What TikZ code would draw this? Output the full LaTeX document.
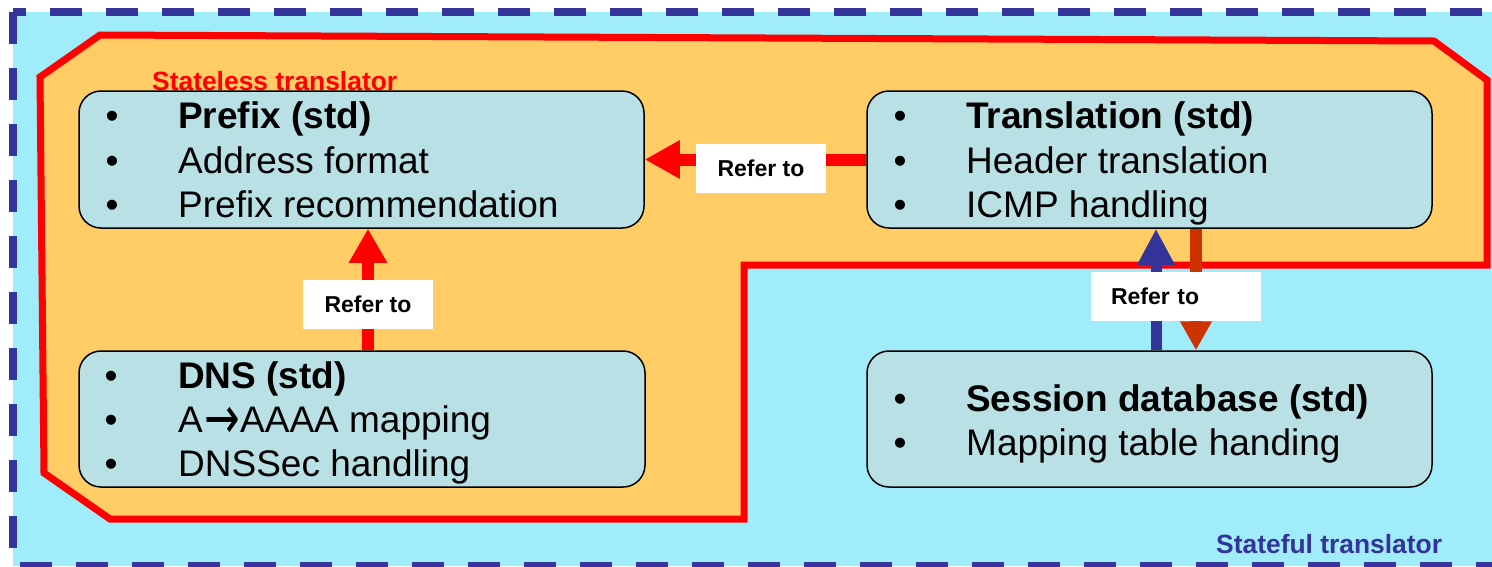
\documentclass[tikz,border=0pt]{standalone}
\usepackage{fontspec}
\setmainfont{Liberation Sans}
\newfontfamily\arrowfont{DejaVu Sans}
\usetikzlibrary{arrows.meta}
\definecolor{bgblue}{RGB}{160,236,251}
\definecolor{dashblue}{RGB}{51,51,153}
\definecolor{stlorange}{RGB}{255,204,102}
\definecolor{boxfill}{RGB}{185,224,228}
\definecolor{arrowred}{RGB}{204,51,0}
\newcommand{\bigarrowglyph}{\makebox[37.3pt][r]{\raisebox{2.75pt}{$\vcenter{\hbox{\arrowfont\scalebox{1.15}[1.6]{→}}}$}}}
\tikzset{
  infobox/.style={draw=black, line width=1.5pt, fill=boxfill, rounded corners=22pt, inner sep=0pt},
  bul/.style={anchor=base, inner sep=0pt, font=\fontsize{37}{44}\selectfont},
  itm/.style={anchor=base west, inner sep=0pt, font=\fontsize{37}{44}\selectfont},
  itmb/.style={anchor=base west, inner sep=0pt, font=\bfseries\fontsize{37}{44}\selectfont},
  refbox/.style={fill=white, inner sep=0pt, minimum height=49pt, font=\bfseries\fontsize{23}{27}\selectfont},
  dashedge/.style={dashblue, line width=7.5pt, dash pattern=on 32pt off 24pt},
  grouplabel/.style={anchor=base west, inner sep=0pt, font=\bfseries\fontsize{26.4}{30}\selectfont}
}
\begin{document}
\begin{tikzpicture}[x=1pt,y=-1pt]
\useasboundingbox (0,0) rectangle (1492,566);
\fill[white] (0,0) rectangle (1492,566);
\fill[bgblue] (13,12) rectangle (1492,566);
% dashed frame (stateful translator)
\draw[dashedge, dash phase=19pt] (13,12) -- (1492,12);
\draw[dashedge] (13,12) -- (13,566);
\draw[dashedge, dash phase=49pt] (13,566) -- (1492,566);
% stateless translator region
\draw[red, fill=stlorange, line width=7pt] (40,77) -- (100,35) -- (1434,41) -- (1487,80) -- (1487,265) -- (744,265) -- (744,519) -- (110,519) -- (44,473) -- cycle;
\node[grouplabel, text=red] (lblsl) at (152,90) {Stateless translator};
\node[grouplabel, text=dashblue] (lblsf) at (1216,553) {Stateful translator};
% boxes
\node[infobox, minimum width=565pt, minimum height=137pt] (prefix) at (361.5,159.5) {};
\node[infobox, minimum width=565pt, minimum height=137pt] (trans) at (1149.5,159.5) {};
\node[infobox, minimum width=566pt, minimum height=136pt] (dns) at (362,419) {};
\node[infobox, minimum width=565pt, minimum height=136pt] (session) at (1149.5,419) {};
% arrow x positions
\coordinate (xa) at (368,0);
\coordinate (xb) at (1156,0);
\coordinate (xc) at (1196,0);
% arrows
\draw[red, line width=12pt, -{Triangle[length=35pt,width=36pt]}] (trans.west) -- (prefix.east);
\draw[red, line width=11.5pt, -{Triangle[length=34pt,width=36pt]}] (dns.north -| xa) -- (prefix.south -| xa);
\draw[dashblue, line width=11pt, -{Triangle[length=36pt,width=35pt]}] (session.north -| xb) -- (trans.south -| xb);
\draw[arrowred, line width=11.5pt, -{Triangle[length=29pt,width=30pt]}] (trans.south -| xc) -- (session.north -| xc);
% refer-to labels
\node[refbox, minimum width=130pt] (r1) at (761,168.5) {Refer to};
\node[refbox, minimum width=130pt] (r2) at (368,304.5) {Refer to};
\node[refbox, text width=130pt, inner xsep=20pt, align=left] (r3) at (1176,296.5) {Refer to};
% prefix box text
\node[bul] (pb1) at (112,128) {•};
\node[bul] (pb2) at (112,173) {•};
\node[bul] (pb3) at (112,217) {•};
\node[itmb] (pt1) at (178,128) {Prefix (std)};
\node[itm] (pt2) at (178,173) {Address format};
\node[itm] (pt3) at (178,217) {Prefix recommendation};
% translation box text
\node[bul] (tb1) at (900,128) {•};
\node[bul] (tb2) at (900,173) {•};
\node[bul] (tb3) at (900,217) {•};
\node[itmb] (tt1) at (966,128) {Translation (std)};
\node[itm] (tt2) at (966,173) {Header translation};
\node[itm] (tt3) at (966,217) {ICMP handling};
% dns box text
\node[bul] (db1) at (111,388) {•};
\node[bul] (db2) at (111,432) {•};
\node[bul] (db3) at (111,476) {•};
\node[itmb] (dt1) at (178,388) {DNS (std)};
\node[itm] (dt2) at (178,432) {A\bigarrowglyph AAAA mapping};
\node[itm] (dt3) at (178,476) {DNSSec handling};
% session box text
\node[bul] (sb1) at (900,411) {•};
\node[bul] (sb2) at (900,455) {•};
\node[itmb] (st1) at (966,411) {Session database (std)};
\node[itm] (st2) at (966,455) {Mapping table handing};
\end{tikzpicture}
\end{document}
